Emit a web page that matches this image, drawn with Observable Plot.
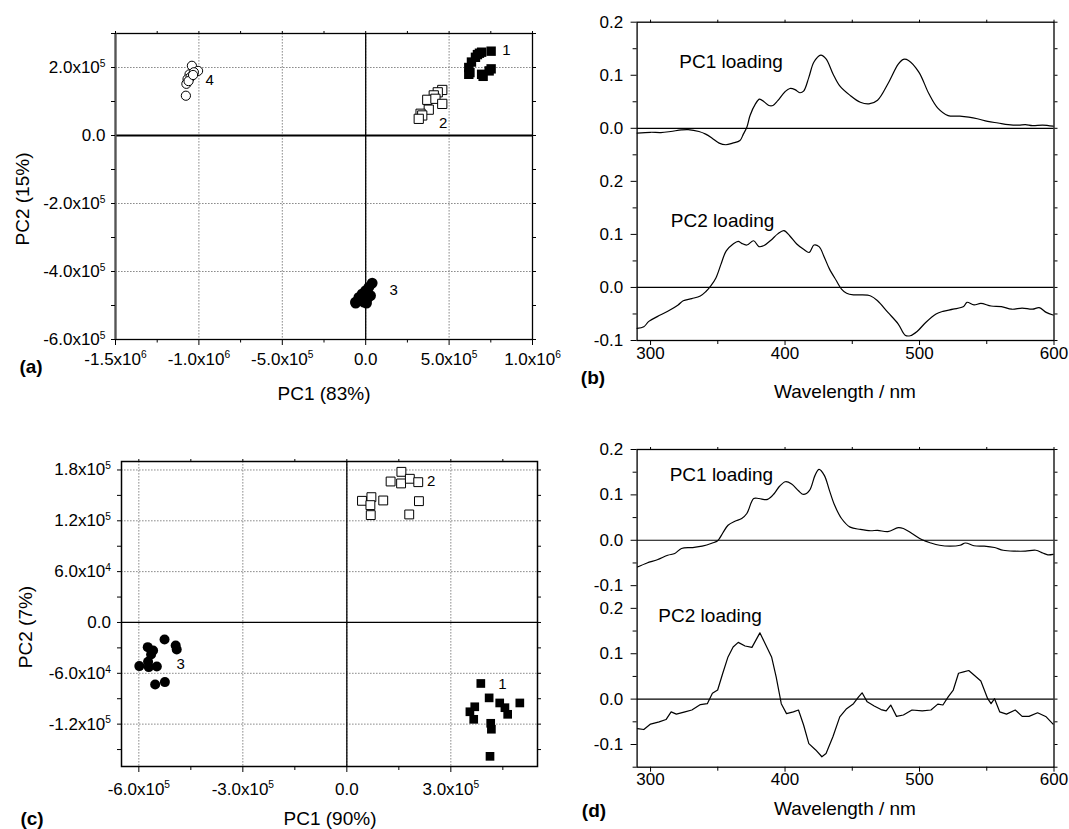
<!DOCTYPE html>
<html>
<head>
<meta charset="utf-8">
<script src="https://cdn.jsdelivr.net/npm/d3@7"></script>
<script src="https://cdn.jsdelivr.net/npm/@observablehq/plot@0.6"></script>
<style>
  html, body { margin: 0; padding: 0; background: white; }
  #fig { position: relative; width: 1069px; height: 829px; background: white; font-family: "Liberation Sans", Arial, Helvetica, sans-serif; color: black; overflow: hidden; }
  .panel { position: absolute; }
  .lbl { position: absolute; white-space: nowrap; transform: translate(-50%, -50%); line-height: 1; }
</style>
</head>
<body>
<div id="fig"></div>
<script>
// ---------------- DATA ----------------
// Panel (a): PCA scores
const a1 = [[7.52e5,2.48e5],[6.82e5,2.42e5],[6.95e5,2.45e5],[6.70e5,2.38e5],[6.58e5,2.30e5],[6.34e5,2.16e5],[6.18e5,2.0e5],[6.18e5,1.80e5],[6.25e5,1.85e5],[7.04e5,1.74e5],[6.95e5,1.80e5],[7.52e5,1.96e5],[7.40e5,1.90e5]];
const a2 = [[4.59e5,1.34e5],[4.32e5,1.27e5],[4.08e5,1.18e5],[3.69e5,1.05e5],[4.18e5,1.08e5],[4.59e5,0.93e5],[3.78e5,0.76e5],[3.29e5,0.64e5],[3.39e5,0.59e5],[3.18e5,0.49e5]];
const a3 = [[0.39e5,-4.34e5],[0.19e5,-4.46e5],[0,-4.56e5],[-0.21e5,-4.66e5],[-0.41e5,-4.76e5],[-0.61e5,-4.90e5],[0.09e5,-4.80e5],[-0.11e5,-4.90e5],[0.29e5,-4.71e5],[-0.6e5,-4.93e5],[0.05e5,-4.93e5]];
const a4 = [[-1.042e6,2.05e5],[-1.056e6,1.80e5],[-1.068e6,1.66e5],[-1.075e6,1.52e5],[-1.078e6,1.17e5],[-1.005e6,1.90e5],[-1.030e6,1.86e5],[-1.050e6,1.72e5],[-1.062e6,1.60e5],[-1.035e6,1.78e5]];
const aGroupLabels = [["1",8.44e5,2.52e5],["2",4.65e5,0.36e5],["3",1.67e5,-4.56e5],["4",-9.36e5,1.62e5]];
const aXTicks = [-1.5e6,-1.0e6,-5e5,0,5e5,1.0e6];
const aXTickLabels = ["-1.5x10^6","-1.0x10^6","-5.0x10^5","0.0","5.0x10^5","1.0x10^6"];
const aXMinor = [-1.25e6,-7.5e5,-2.5e5,2.5e5,7.5e5];
const aYTicks = [-6e5,-4e5,-2e5,0,2e5];
const aYTickLabels = ["-6.0x10^5","-4.0x10^5","-2.0x10^5","0.0","2.0x10^5"];
const aYMinor = [-5e5,-3e5,-1e5,1e5,3e5];

// Panel (c): PCA scores
const c1 = [[3.865e5,-7.2e4],[4.105e5,-8.9e4],[3.69e5,-9.95e4],[3.55e5,-1.054e5],[3.66e5,-1.143e5],[4.41e5,-9.5e4],[4.56e5,-1.006e5],[4.64e5,-1.084e5],[4.99e5,-9.5e4],[4.15e5,-1.19e5],[4.17e5,-1.26e5],[4.13e5,-1.58e5]];
const c2 = [[1.574e5,1.778e5],[1.263e5,1.664e5],[1.565e5,1.641e5],[1.817e5,1.696e5],[2.06e5,1.656e5],[0.437e5,1.436e5],[0.709e5,1.479e5],[0.68e5,1.385e5],[1.05e5,1.44e5],[0.69e5,1.267e5],[1.80e5,1.275e5],[2.08e5,1.432e5]];
const c3 = [[-5.258e5,-2.0e4],[-5.743e5,-2.91e4],[-5.588e5,-3.3e4],[-5.646e5,-3.78e4],[-4.937e5,-2.71e4],[-4.907e5,-3.19e4],[-5.986e5,-5.15e4],[-5.714e5,-5.27e4],[-5.481e5,-5.19e4],[-5.733e5,-4.64e4],[-5.529e5,-7.32e4],[-5.248e5,-7.04e4]];
const cGroupLabels = [["1",4.49e5,-7.3e4],["2",2.43e5,1.668e5],["3",-4.79e5,-4.96e4]];
const cXTicks = [-6e5,-3e5,0,3e5];
const cXTickLabels = ["-6.0x10^5","-3.0x10^5","0.0","3.0x10^5"];
const cXMinor = [-4.5e5,-1.5e5,1.5e5,4.5e5];
const cYTicks = [-1.2e5,-6e4,0,6e4,1.2e5,1.8e5];
const cYTickLabels = ["-1.2x10^5","-6.0x10^4","0.0","6.0x10^4","1.2x10^5","1.8x10^5"];
const cYMinor = [-1.5e5,-9e4,-3e4,3e4,9e4,1.5e5];

// Panel (b): loadings
const bWl1 = [290,300,307.7,315,323,328,336,341,346,351,356,361,366.5,369,371.6,374,378,381,384.4,388,391,394.6,400,403.6,407.4,411,413.8,417.7,421.5,426.6,430.5,435.6,440.7,448.4,456,462.4,468.8,476.5,484.2,488,491.8,499.5,507,513.6,521.3,530,536.6,543,550.7,558.4,566,573.7,578.8,584,591.6,599.3];
const bPC1 = [-0.009,-0.0075,-0.008,-0.006,-0.003,-0.0025,-0.006,-0.011,-0.019,-0.028,-0.031,-0.028,-0.023,-0.011,0.002,0.024,0.046,0.055,0.050,0.043,0.043,0.052,0.069,0.075,0.073,0.067,0.070,0.096,0.125,0.138,0.131,0.103,0.080,0.062,0.049,0.046,0.053,0.084,0.121,0.130,0.128,0.106,0.065,0.038,0.024,0.023,0.021,0.018,0.013,0.010,0.007,0.006,0.007,0.005,0.006,0.004];
const bWl2 = [290,295,298.7,305,312.8,320.5,324.3,330.7,337,341,344.8,348.6,352.4,356.3,361.4,365.2,367.8,371.6,376.7,380.6,384.4,389.5,394.6,399.2,403.6,408.7,413.8,418,421.5,425.3,429.2,433,438.1,442,445.8,450.9,456,463.7,468.8,476.5,484.2,489.3,493.1,498.2,504.6,512.3,517.4,525,532.8,535.3,540.5,545.6,553.2,560.9,568.6,576.3,584,589,594.2,599.3];
const bPC2 = [-0.077,-0.074,-0.064,-0.055,-0.045,-0.033,-0.025,-0.021,-0.016,-0.008,0.003,0.018,0.044,0.069,0.082,0.087,0.083,0.080,0.088,0.077,0.079,0.089,0.101,0.107,0.097,0.082,0.072,0.066,0.080,0.077,0.057,0.035,0.013,-0.003,-0.011,-0.014,-0.014,-0.016,-0.025,-0.047,-0.069,-0.090,-0.091,-0.083,-0.066,-0.050,-0.045,-0.041,-0.036,-0.028,-0.033,-0.030,-0.035,-0.036,-0.041,-0.039,-0.041,-0.038,-0.047,-0.052];

// Panel (d): loadings
const dWl1 = [290.3,297.4,305,312.8,318,323,330.7,338.4,346,349.9,353.7,357.6,362.7,367.8,371.6,376.7,380.6,387,392,395.9,400.3,404.9,410,413.8,418.2,422.3,425.3,429.2,433,436.9,442,448.4,456,463.7,468.8,476.5,484.2,488,494.4,502,508.5,514.9,522.6,530.2,534.1,540.5,548.1,555.8,562.2,571.2,578.8,586.5,591.6,595.4,599.3];
const dPC1 = [-0.059,-0.050,-0.043,-0.033,-0.029,-0.018,-0.016,-0.013,-0.006,-0.001,0.016,0.033,0.042,0.048,0.059,0.092,0.092,0.090,0.103,0.119,0.129,0.124,0.109,0.101,0.110,0.143,0.156,0.143,0.110,0.077,0.048,0.029,0.024,0.021,0.022,0.019,0.028,0.026,0.015,0.001,-0.006,-0.011,-0.013,-0.011,-0.006,-0.012,-0.013,-0.016,-0.022,-0.024,-0.024,-0.022,-0.028,-0.032,-0.031];
const dWl2 = [290.3,295,300,306.4,311.5,315.3,319.2,325.6,330.7,337.1,342.2,346,349.9,353.7,357.6,361.4,365.2,370.3,375.4,381.3,385.7,390,393.4,397.2,401.1,406.2,410,413.8,417.7,422.8,427.4,430.5,435.6,440.7,445.8,450.9,454.7,457.3,461.1,466.3,471.4,475.2,478.6,482.9,488,494.4,502,508.5,513.6,517.4,521.3,525.1,529,532.8,536.6,540.5,545.6,550.7,553.2,555.8,559.6,564.7,571.2,576.3,581.4,587.8,594.2,599.3];
const dPC2 = [-0.065,-0.067,-0.055,-0.050,-0.045,-0.028,-0.033,-0.028,-0.024,-0.012,-0.010,0.013,0.020,0.057,0.093,0.115,0.125,0.117,0.114,0.146,0.119,0.093,0.049,-0.010,-0.032,-0.028,-0.024,-0.057,-0.098,-0.112,-0.127,-0.120,-0.083,-0.039,-0.021,-0.010,0.005,0.014,-0.006,-0.015,-0.023,-0.026,-0.013,-0.038,-0.035,-0.024,-0.026,-0.024,-0.011,-0.013,0.005,0.020,0.057,0.060,0.063,0.053,0.040,0.001,-0.010,0.001,-0.028,-0.033,-0.024,-0.038,-0.038,-0.030,-0.039,-0.055];

const wlTicks = [300,400,500,600];
const wlTickLabels = ["300","400","500","600"];
const wlMinor = [350,450,550];
// (b) stacked: lower block -0.1..0.2, upper block shifted by 0.3
const bYTicks = [-0.1,0,0.1,0.2,0.3,0.4,0.5];
const bYTickLabels = ["-0.1","0.0","0.1","0.2","0.0","0.1","0.2"];
const bYMinor = [-0.05,0.05,0.15,0.25,0.35,0.45];
const bUpperShift = 0.3;
const bLoadLabels = [["PC1 loading",321.4,0.125,"upper"],["PC2 loading",315.1,0.126,"lower"]];
// (d) stacked: each block -0.15..0.2, upper shifted by 0.35
const dYTicks = [-0.1,0,0.1,0.2,0.25,0.35,0.45,0.55];
const dYTickLabels = ["-0.1","0.0","0.1","0.2","-0.1","0.0","0.1","0.2"];
const dYMinor = [-0.15,-0.05,0.05,0.15,0.3,0.4,0.5];
const dUpperShift = 0.35;
const dLoadLabels = [["PC1 loading",314.2,0.143,"upper"],["PC2 loading",305.8,0.184,"lower"]];

// ---------------- HELPERS ----------------
const FONT = "'Liberation Sans', Arial, Helvetica, sans-serif";
const fig = document.getElementById("fig");
const labeler = (vals, labels) => { const m = new Map(vals.map((v, i) => [v, labels[i]])); return d => m.get(d) ?? ""; };
const svgStyle = (fs) => `background:transparent;overflow:visible;font-family:${FONT};font-size:${fs}px;color:black;`;

function supify(svg) {
  const ns = "http://www.w3.org/2000/svg";
  svg.querySelectorAll("text").forEach(t => {
    const s = t.textContent;
    if (!s.includes("^")) return;
    const [b, e] = s.split("^");
    while (t.firstChild) t.removeChild(t.firstChild);
    const t1 = document.createElementNS(ns, "tspan"); t1.textContent = b;
    const t2 = document.createElementNS(ns, "tspan"); t2.textContent = e;
    t2.setAttribute("dy", "-0.6em"); t2.setAttribute("font-size", "0.6em");
    t.append(t1, t2);
  });
}
function place(svg, left, top, w) {
  const div = document.createElement("div");
  div.className = "panel";
  div.style.left = left + "px"; div.style.top = top + "px"; div.style.width = w + "px";
  supify(svg);
  div.appendChild(svg);
  fig.appendChild(div);
}
function label(text, x, y, opts = {}) {
  const el = document.createElement("div");
  el.className = "lbl";
  el.textContent = text;
  el.style.left = x + "px"; el.style.top = y + "px";
  el.style.fontSize = (opts.size || 19) + "px";
  if (opts.bold) el.style.fontWeight = "bold";
  if (opts.rotate) el.style.transform = "translate(-50%, -50%) rotate(-90deg)";
  fig.appendChild(el);
}
const grid = {stroke: "#8c8c8c", strokeOpacity: 1, strokeWidth: 1, strokeDasharray: "1.6,1.4"};
const px = d => d[0], py = d => d[1];

// ---------------- PANEL (a) ----------------
const plotA = Plot.plot({
  width: 560, height: 410,
  marginLeft: 115, marginRight: 28, marginTop: 33, marginBottom: 71,
  style: svgStyle(17),
  x: {domain: [-1.5e6, 1.0e6], axis: null},
  y: {domain: [-6e5, 3e5], axis: null},
  marks: [
    Plot.gridX(aXTicks, grid),
    Plot.gridY(aYTicks, grid),
    Plot.ruleY([0], {stroke: "black", strokeWidth: 2.2}),
    Plot.ruleX([0], {stroke: "black", strokeWidth: 1.3}),
    Plot.frame({stroke: "black", strokeWidth: 1.3}),
    Plot.ruleX([-1.5e6], {stroke: "#555", strokeWidth: 2.2}),
    Plot.axisX(aXTicks, {anchor: "bottom", tickSize: 6, tickPadding: 7, tickFormat: labeler(aXTicks, aXTickLabels), label: null}),
    Plot.axisX(aXMinor, {anchor: "bottom", tickSize: 3.5, text: null, label: null}),
    Plot.axisX(aXTicks.concat(aXMinor), {anchor: "top", tickSize: 3, text: null, label: null}),
    Plot.axisY(aYTicks, {anchor: "left", tickSize: 4, tickPadding: 6, tickFormat: labeler(aYTicks, aYTickLabels), label: null}),
    Plot.axisY(aYMinor, {anchor: "left", tickSize: 4, text: null, label: null}),
    Plot.axisY(aYTicks.concat(aYMinor), {anchor: "right", tickSize: 3, text: null, label: null}),
    Plot.dot(a4, {x: px, y: py, r: 4.6, fill: "white", stroke: "black", strokeWidth: 1}),
    Plot.dot(a2, {x: px, y: py, symbol: "square", r: 5.2, fill: "white", stroke: "black", strokeWidth: 1}),
    Plot.dot(a1, {x: px, y: py, symbol: "square", r: 5.3, fill: "black"}),
    Plot.dot(a3, {x: px, y: py, r: 5.4, fill: "black"}),
    Plot.text(aGroupLabels, {x: d => d[1], y: d => d[2], text: d => d[0], fontSize: 15, fill: "black"})
  ]
});
place(plotA, 0, 0, 560);

// ---------------- PANEL (c) ----------------
const plotC = Plot.plot({
  width: 560, height: 419,
  marginLeft: 121, marginRight: 23, marginTop: 51, marginBottom: 63,
  style: svgStyle(17),
  x: {domain: [-6.5e5, 5.5e5], axis: null},
  y: {domain: [-1.7e5, 1.9e5], axis: null},
  marks: [
    Plot.gridX(cXTicks, grid),
    Plot.gridY(cYTicks, grid),
    Plot.ruleY([0], {stroke: "black", strokeWidth: 1.3}),
    Plot.ruleX([0], {stroke: "black", strokeWidth: 1.3}),
    Plot.frame({stroke: "black", strokeWidth: 1.5}),
    Plot.axisX(cXTicks, {anchor: "bottom", tickSize: 6, tickPadding: 10, tickFormat: labeler(cXTicks, cXTickLabels), label: null}),
    Plot.axisX(cXMinor, {anchor: "bottom", tickSize: 4, text: null, label: null}),
    Plot.axisX(cXTicks.concat(cXMinor), {anchor: "top", tickSize: 3, text: null, label: null}),
    Plot.axisY(cYTicks, {anchor: "left", tickSize: 4, tickPadding: 6.5, tickFormat: labeler(cYTicks, cYTickLabels), label: null}),
    Plot.axisY(cYMinor, {anchor: "left", tickSize: 4, text: null, label: null}),
    Plot.axisY(cYTicks.concat(cYMinor), {anchor: "right", tickSize: 3, text: null, label: null}),
    Plot.dot(c2, {x: px, y: py, symbol: "square", r: 5, fill: "white", stroke: "black", strokeWidth: 1}),
    Plot.dot(c1, {x: px, y: py, symbol: "square", r: 4.9, fill: "black"}),
    Plot.dot(c3, {x: px, y: py, r: 5, fill: "black"}),
    Plot.text(cGroupLabels, {x: d => d[1], y: d => d[2], text: d => d[0], fontSize: 15, fill: "black"})
  ]
});
place(plotC, 0, 410, 560);

// ---------------- PANEL (b) ----------------
const plotB = Plot.plot({
  width: 529, height: 410,
  marginLeft: 96.6, marginRight: 15.5, marginTop: 21.7, marginBottom: 70,
  style: svgStyle(17),
  x: {domain: [290, 600], axis: null},
  y: {domain: [-0.1, 0.5], axis: null},
  marks: [
    Plot.ruleY([0, bUpperShift], {stroke: "black", strokeWidth: 1.2}),
    Plot.frame({stroke: "black", strokeWidth: 1.3}),
    Plot.axisX(wlTicks, {anchor: "bottom", tickSize: 5, tickPadding: 1, tickFormat: labeler(wlTicks, wlTickLabels), label: null}),
    Plot.axisX(wlMinor, {anchor: "bottom", tickSize: 4, text: null, label: null}),
    Plot.axisX(wlTicks.concat(wlMinor), {anchor: "top", tickSize: 3, text: null, label: null}),
    Plot.axisY(bYTicks, {anchor: "left", tickSize: 6, tickPadding: 8, tickFormat: labeler(bYTicks, bYTickLabels), label: null}),
    Plot.axisY(bYMinor, {anchor: "left", tickSize: 4, text: null, label: null}),
    Plot.axisY(bYTicks.concat(bYMinor), {anchor: "right", tickSize: 3, text: null, label: null}),
    Plot.line(bWl1, {x: d => d, y: (d, i) => bPC1[i] + bUpperShift, curve: "catmull-rom", stroke: "black", strokeWidth: 1.2}),
    Plot.line(bWl2, {x: d => d, y: (d, i) => bPC2[i], curve: "catmull-rom", stroke: "black", strokeWidth: 1.2}),
    Plot.text(bLoadLabels, {x: d => d[1], y: d => d[2] + (d[3] === "upper" ? bUpperShift : 0), text: d => d[0], textAnchor: "start", lineAnchor: "middle", fontSize: 19, fill: "black"})
  ]
});
place(plotB, 540, 0, 529);

// ---------------- PANEL (d) ----------------
const plotD = Plot.plot({
  width: 529, height: 419,
  marginLeft: 96.6, marginRight: 15.5, marginTop: 39, marginBottom: 62.3,
  style: svgStyle(17),
  x: {domain: [290, 600], axis: null},
  y: {domain: [-0.15, 0.55], axis: null},
  marks: [
    Plot.ruleY([0, dUpperShift], {stroke: "black", strokeWidth: 1.2}),
    Plot.frame({stroke: "black", strokeWidth: 1.3}),
    Plot.axisX(wlTicks, {anchor: "bottom", tickSize: 5, tickPadding: 1, tickFormat: labeler(wlTicks, wlTickLabels), label: null}),
    Plot.axisX(wlMinor, {anchor: "bottom", tickSize: 4, text: null, label: null}),
    Plot.axisX(wlTicks.concat(wlMinor), {anchor: "top", tickSize: 3, text: null, label: null}),
    Plot.axisY(dYTicks, {anchor: "left", tickSize: 6, tickPadding: 8, tickFormat: labeler(dYTicks, dYTickLabels), label: null}),
    Plot.axisY(dYMinor, {anchor: "left", tickSize: 4, text: null, label: null}),
    Plot.axisY(dYTicks.concat(dYMinor), {anchor: "right", tickSize: 3, text: null, label: null}),
    Plot.line(dWl1, {x: d => d, y: (d, i) => dPC1[i] + dUpperShift, curve: "catmull-rom", stroke: "black", strokeWidth: 1.2}),
    Plot.line(dWl2, {x: d => d, y: (d, i) => dPC2[i], curve: "linear", stroke: "black", strokeWidth: 1.2}),
    Plot.text(dLoadLabels, {x: d => d[1], y: d => d[2] + (d[3] === "upper" ? dUpperShift : 0), text: d => d[0], textAnchor: "start", lineAnchor: "middle", fontSize: 19, fill: "black"})
  ]
});
place(plotD, 540, 410, 529);

// ---------------- TEXT LABELS ----------------
label("(a)", 31, 366, {bold: true});
label("PC1 (83%)", 324, 393);
label("PC2 (15%)", 22, 199, {rotate: true});
label("(b)", 593, 377, {bold: true});
label("Wavelength / nm", 845, 391);
label("(c)", 32, 818, {bold: true});
label("PC1 (90%)", 330, 818);
label("PC2 (7%)", 25, 627, {rotate: true});
label("(d)", 594, 810, {bold: true});
label("Wavelength / nm", 845, 808);
</script>
</body>
</html>
